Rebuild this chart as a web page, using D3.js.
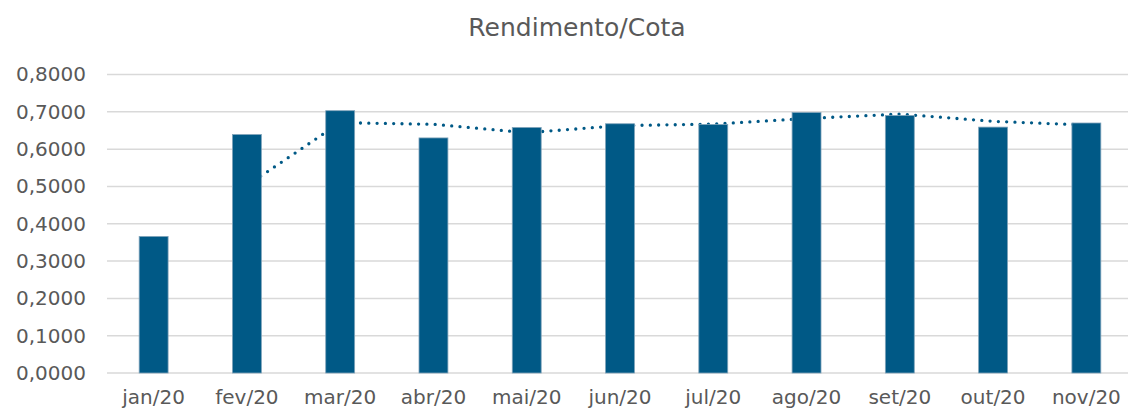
<!DOCTYPE html>
<html>
<head>
<meta charset="utf-8">
<script src="https://cdn.jsdelivr.net/npm/d3@7"></script>
<style>
  body { margin: 0; background: #fff; }
  svg { display: block; font-family: "DejaVu Sans", Verdana, sans-serif; }
</style>
</head>
<body>
<div id="chart"></div>
<script>
// Rendimento por cota, mensal
let months = ["jan/20", "fev/20", "mar/20", "abr/20", "mai/20", "jun/20",
              "jul/20", "ago/20", "set/20", "out/20", "nov/20"];
let values = [0.366, 0.639, 0.703, 0.630, 0.658, 0.668,
              0.666, 0.698, 0.690, 0.659, 0.670];
let yTicks = [0, 0.1, 0.2, 0.3, 0.4, 0.5, 0.6, 0.7, 0.8];
let title = "Rendimento/Cota";

let width = 1128,
    height = 413;

let blue = "#005986",
    grid = "#d9d9d9",
    textGray = "#595959";

let svg = d3.select("#chart").append("svg")
    .attr("width", width)
    .attr("height", height);

let x = d3.scaleBand()
    .domain(months)
    .range([107, 1133])
    .paddingInner(0.69)
    .paddingOuter(0.345);

let y = d3.scaleLinear()
    .domain([0, 0.8])
    .range([373, 74.5]);

// gridlines
svg.append("g")
    .selectAll("line")
    .data(yTicks)
    .enter()
    .append("line")
    .attr("x1", 107)
    .attr("x2", width)
    .attr("y1", d => y(d))
    .attr("y2", d => y(d))
    .attr("stroke", grid)
    .attr("stroke-width", 1.5);

// y labels
let fmt = d => d.toFixed(4).replace(".", ",");
let yAxis = svg.append("g")
    .attr("transform", "translate(96,0)")
    .call(d3.axisLeft(y).tickValues(yTicks).tickFormat(fmt).tickSize(0).tickPadding(10));
yAxis.select(".domain").remove();
yAxis.selectAll("text")
    .attr("fill", textGray)
    .style("font-size", "20px")
    .style("font-family", "DejaVu Sans, Verdana, sans-serif");

// x labels
let xAxis = svg.append("g")
    .attr("transform", "translate(0,373)")
    .call(d3.axisBottom(x).tickSize(0).tickPadding(17));
xAxis.select(".domain").remove();
xAxis.selectAll("text")
    .attr("fill", textGray)
    .style("font-size", "20px")
    .style("font-family", "DejaVu Sans, Verdana, sans-serif");

// moving average (2 periods), drawn behind the bars
let ma = values.map((v, i) => i === 0 ? null : (v + values[i - 1]) / 2);
let line = d3.line()
    .defined(d => d.v !== null)
    .x(d => x(d.m) + x.bandwidth() / 2)
    .y(d => y(d.v));

svg.append("path")
    .datum(months.map((m, i) => ({m: m, v: ma[i]})))
    .attr("d", line)
    .attr("fill", "none")
    .attr("stroke", blue)
    .attr("stroke-width", 3.3)
    .attr("stroke-linecap", "round")
    .attr("stroke-dasharray", "0 8.3");

// bars
svg.append("g")
    .selectAll("rect")
    .data(values)
    .enter()
    .append("rect")
    .attr("x", (d, i) => x(months[i]))
    .attr("y", d => y(d))
    .attr("width", x.bandwidth())
    .attr("height", d => y(0) - y(d))
    .attr("fill", blue)
    .attr("stroke", "#7fa3ba")
    .attr("stroke-width", 0.8);

// title
svg.append("text")
    .attr("x", 577)
    .attr("y", 36)
    .attr("text-anchor", "middle")
    .attr("fill", textGray)
    .style("font-size", "25px")
    .text(title);
</script>
</body>
</html>
